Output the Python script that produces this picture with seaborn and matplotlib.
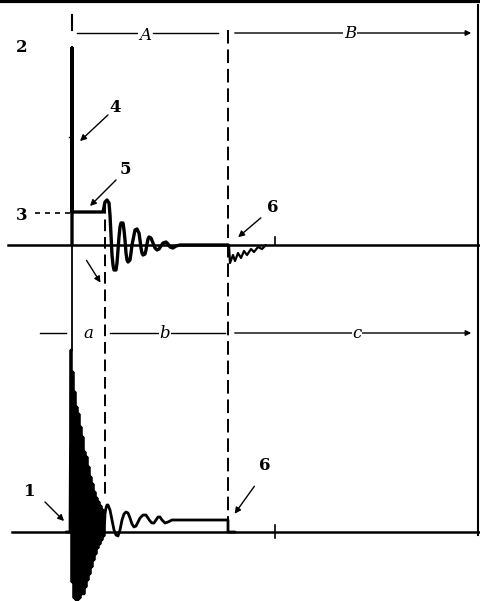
import numpy as np
import pandas as pd
import seaborn as sns
from matplotlib import pyplot as plt

# baselines (vertical position of the two zero lines, picture units, y grows down)
upper_zero = 245
lower_zero = 532

# upper trace: time, amplitude (up = positive)
upper_t = [72, 72, 72, 103, 104, 105, 107, 109, 110, 111, 112, 113, 114, 116, 117, 118, 119, 120, 121, 123,
           124, 125, 126, 127, 128, 130, 131, 132, 134, 135, 137, 139, 140, 141, 142, 143, 145, 146, 147,
           148, 149, 151, 153, 155, 157, 159, 161, 163, 166, 168, 170, 173, 176, 180, 228]
upper_v = [0, 197, 33, 33, 38, 43, 45, 42, 30, 10, -10, -20, -25, -25, -18, -5, 8, 18, 22, 22,
           15, 5, -8, -15, -17, -15, -8, 0, 10, 15, 16, 12, 5, -3, -8, -10, -9, -5, 1,
           6, 8, 7, 2, -3, -5, -4, -1, 2, 3, 1, -2, -3, -1, 0, 0]

# upper disturbance "6"
ring_t = [229, 230, 233, 235, 238, 241, 244, 247, 251, 254, 258, 262, 266]
ring_v = [0, -18, -10, -16, -8, -13, -6, -10, -4, -7, -2, -4, 0]

# lower trace
lower_t = [66, 70, 71, 72, 73, 74, 75, 76, 77, 78, 79, 80, 81, 82, 83, 84, 85, 86, 87, 88,
           89, 90, 91, 92, 93, 94, 95, 96, 97, 98, 99, 100, 101, 102, 103, 104, 105,
           106, 107, 108, 110, 112, 114, 116, 118, 120, 122, 124, 126, 128, 130, 132, 134, 136,
           138, 140, 143, 146, 148, 150, 152, 154, 156, 158, 160, 162, 165, 168, 172, 228, 228, 235]
lower_v = [0, 0, 182, -50, 160, -66, 140, -68, 125, -68, 118, -66, 105, -62, 95, -62, 80, -55, 75, -48,
           65, -42, 55, -35, 48, -28, 40, -22, 34, -16, 30, -12, 26, -8, 22, -4, 18,
           24, 27, 27, 22, 12, 2, -3, -4, 2, 12, 18, 20, 19, 14, 8, 5, 6,
           10, 14, 17, 17, 14, 11, 9, 9, 12, 15, 15, 12, 9, 10, 12, 12, 0, 0]

fig = plt.figure(figsize=(4.8, 6.01), dpi=100)
ax = fig.add_axes([0, 0, 1, 1])

up = pd.DataFrame({'t': upper_t, 'y': [upper_zero - v for v in upper_v]})
rg = pd.DataFrame({'t': ring_t, 'y': [upper_zero - v for v in ring_v]})
lo = pd.DataFrame({'t': lower_t, 'y': [lower_zero - v for v in lower_v]})
line_kw = dict(sort=False, estimator=None, color='black', ax=ax,
               solid_joinstyle='round', solid_capstyle='round')
sns.lineplot(data=up, x='t', y='y', lw=2.4, **line_kw)
sns.lineplot(data=rg, x='t', y='y', lw=1.6, **line_kw)
sns.lineplot(data=lo, x='t', y='y', lw=2.0, **line_kw)
ax.set_xlim(0, 480)
ax.set_ylim(601, 0)
ax.axis('off')

k = 'black'
# frame pieces
ax.plot([0, 480], [1, 1], color=k, lw=3)
ax.plot([478, 478], [5, 535], color=k, lw=1.5)
ax.plot([8, 480], [upper_zero, upper_zero], color=k, lw=1.8)
ax.plot([12, 480], [lower_zero, lower_zero], color=k, lw=1.8)
ax.plot([72, 72], [15, 30], color=k, lw=1.5)
ax.plot([72, 72], [48, 350], color=k, lw=1.3)
ax.plot([69, 72], [137, 137], color=k, lw=1)
ax.plot([275, 275], [237, 245], color=k, lw=1.2)
ax.plot([275, 275], [525, 538], color=k, lw=1.2)
ax.plot([105, 105], [202, 495], color=k, lw=1.4, ls=(0, (6, 3)))
ax.plot([228, 228], [30, 522], color=k, lw=1.4, ls=(0, (7, 3)))
ax.plot([35, 70], [213, 213], color=k, lw=1.2, ls=(0, (3, 3)))

# span marks
ax.plot([77, 137], [33, 33], color=k, lw=1)
ax.plot([153, 218], [33, 33], color=k, lw=1)
ax.annotate('', xy=(474, 33), xytext=(232, 33),
            arrowprops=dict(arrowstyle='-|>', color=k, lw=1, mutation_scale=8))
ax.plot([40, 66], [333, 333], color=k, lw=1)
ax.plot([110, 225], [333, 333], color=k, lw=1)
ax.annotate('', xy=(474, 333), xytext=(232, 333),
            arrowprops=dict(arrowstyle='-|>', color=k, lw=1, mutation_scale=8))

it = dict(family='DejaVu Serif', style='italic', fontsize=12, ha='center', va='center')
ax.text(145, 35, 'A', bbox=dict(fc='white', ec='none', pad=0.5), **it)
ax.text(350, 33, 'B', bbox=dict(fc='white', ec='none', pad=0.5), **it)
ax.text(88, 333, 'a', **it)
ax.text(165, 333, 'b', bbox=dict(fc='white', ec='none', pad=0.5), **it)
ax.text(357, 333, 'c', bbox=dict(fc='white', ec='none', pad=0.5), **it)

num = dict(family='DejaVu Serif', fontweight='bold', fontsize=12, ha='center', va='center')
ax.text(22, 48, '2', **num)
ax.text(22, 215, '3', **num)
ax.text(115, 107, '4', **num)
ax.text(125, 170, '5', **num)
ax.text(273, 208, '6', **num)
ax.text(265, 466, '6', **num)
ax.text(30, 492, '1', **num)

arr = dict(arrowstyle='-|>', color=k, lw=1, mutation_scale=9)
ax.annotate('', xy=(78, 143), xytext=(110, 113), arrowprops=arr)
ax.annotate('', xy=(88, 208), xytext=(118, 178), arrowprops=arr)
ax.annotate('', xy=(236, 239), xytext=(263, 216), arrowprops=arr)
ax.annotate('', xy=(102, 285), xytext=(85, 258), arrowprops=arr)
ax.annotate('', xy=(233, 516), xytext=(256, 484), arrowprops=arr)
ax.annotate('', xy=(66, 523), xytext=(43, 500), arrowprops=arr)

fig.savefig('out.png', dpi=100)
